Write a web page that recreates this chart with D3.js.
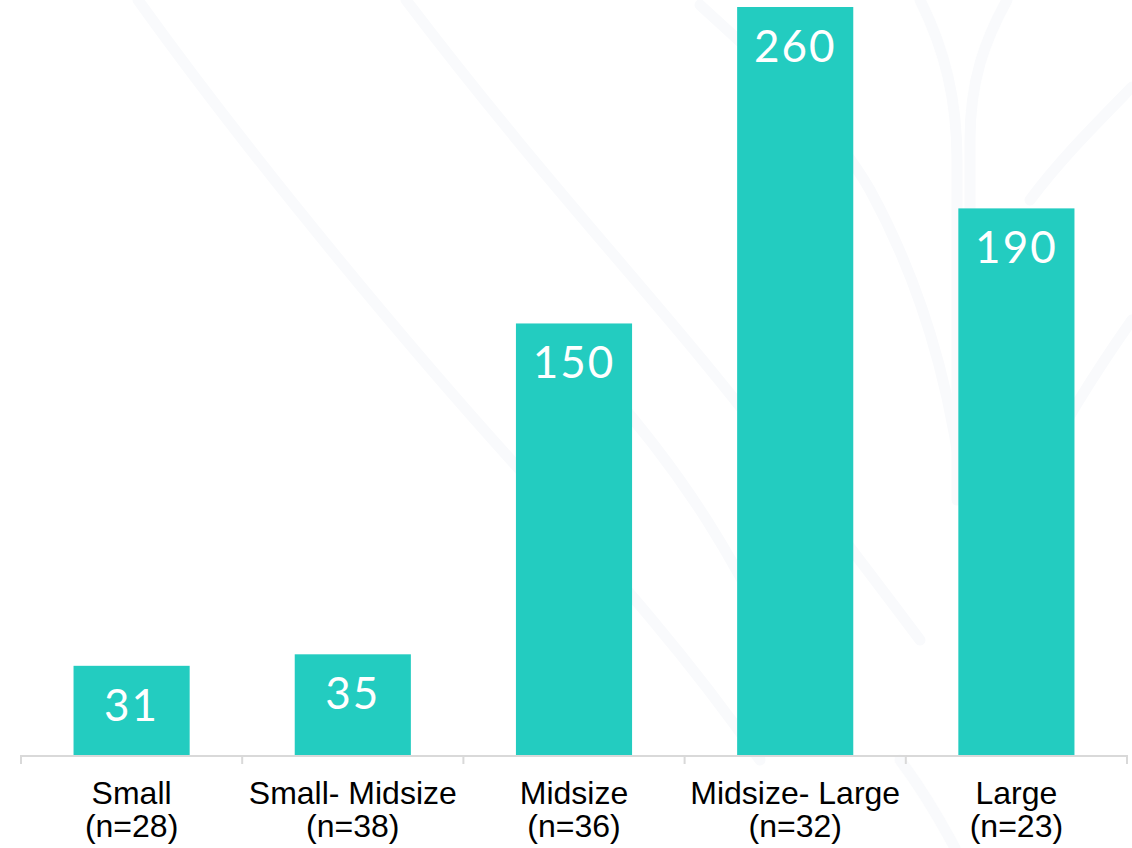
<!DOCTYPE html>
<html>
<head>
<meta charset="utf-8">
<script src="https://cdn.jsdelivr.net/npm/d3@7"></script>
<style>
  html, body { margin: 0; padding: 0; background: #ffffff; }
  svg { display: block; }
</style>
</head>
<body>
<svg id="chart" width="1132" height="848"></svg>
<script>
// Company size groups and their sample sizes
const categories = ["Small", "Small- Midsize", "Midsize", "Midsize- Large", "Large"];
const sampleSizes = ["(n=28)", "(n=38)", "(n=36)", "(n=32)", "(n=23)"];
const values = [31, 35, 150, 260, 190];

const W = 1132, H = 848;
const svg = d3.select("#chart");

// Faint decorative background strokes
const deco = svg.append("g")
  .attr("fill", "none")
  .attr("stroke", "#f9fafc")
  .attr("stroke-width", 11)
  .attr("stroke-linecap", "round");
[
  "M138,0 C260,170 420,360 520,470 S690,660 760,760",
  "M406,0 C520,150 620,260 700,357 S860,560 920,640",
  "M600,380 C680,470 740,560 800,700",
  "M700,5 C760,60 830,120 870,190 C930,300 960,420 970,560",
  "M920,0 C945,50 957,100 957,160 L957,500",
  "M1007,0 C985,40 970,80 970,140 L970,500",
  "M1132,87 C1090,130 1060,160 1030,200",
  "M1132,320 C1090,380 1060,430 1040,470",
  "M900,760 C930,800 945,830 955,848"
].forEach(d => deco.append("path").attr("d", d));

// Scales
const x = d3.scaleBand()
  .domain(categories)
  .range([21, 1127])
  .paddingInner(0.475)
  .paddingOuter(0.2375);

const y = d3.scaleLinear()
  .domain([0, 260])
  .range([755, 7]);

// Bars
svg.append("g")
  .selectAll("rect")
  .data(values)
  .join("rect")
  .attr("x", (d, i) => x(categories[i]))
  .attr("y", d => y(d))
  .attr("width", x.bandwidth())
  .attr("height", d => y(0) - y(d))
  .attr("fill", "#23ccc0");

// Value labels inside bar tops
svg.append("g")
  .selectAll("text")
  .data(values)
  .join("text")
  .attr("x", (d, i) => x(categories[i]) + x.bandwidth() / 2)
  .attr("y", d => y(d) + 55)
  .attr("text-anchor", "middle")
  .attr("fill", "#ffffff")
  .style("font-family", "Lato, 'Open Sans', sans-serif")
  .style("font-size", "44px")
  .style("letter-spacing", "2px")
  .text(d => d);

// X axis: baseline with tick marks at band boundaries
const axisG = svg.append("g");
const bounds = d3.range(categories.length + 1).map(i => 21 + i * (1106 / categories.length));
axisG.append("line")
  .attr("x1", 21).attr("x2", 1127)
  .attr("y1", y(0) + 1).attr("y2", y(0) + 1)
  .attr("stroke", "#d9d9d9")
  .attr("stroke-width", 2);
axisG.selectAll("line.tick")
  .data(bounds)
  .join("line")
  .attr("class", "tick")
  .attr("x1", d => d).attr("x2", d => d)
  .attr("y1", y(0)).attr("y2", y(0) + 9)
  .attr("stroke", "#d9d9d9")
  .attr("stroke-width", 2);

// Category labels, two lines each
const lab = svg.append("g")
  .style("font-family", "'Liberation Sans', Arial, sans-serif")
  .style("font-size", "32px")
  .attr("fill", "#000000")
  .attr("text-anchor", "middle");
categories.forEach((c, i) => {
  const cx = x(c) + x.bandwidth() / 2;
  lab.append("text").attr("x", cx).attr("y", 804).text(c);
  lab.append("text").attr("x", cx).attr("y", 837).text(sampleSizes[i]);
});
</script>
</body>
</html>
